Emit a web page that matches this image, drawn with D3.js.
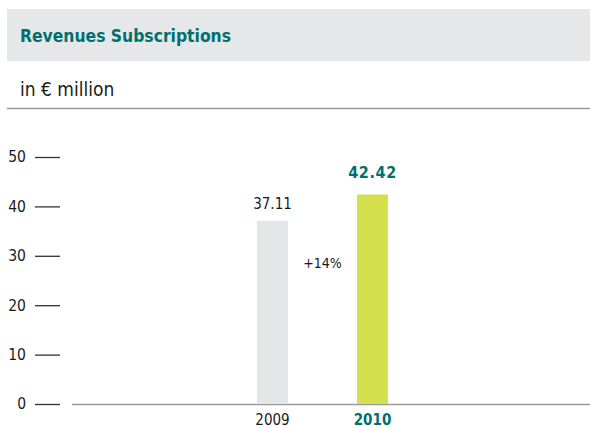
<!DOCTYPE html>
<html>
<head>
<meta charset="utf-8">
<script src="https://cdn.jsdelivr.net/npm/d3@7"></script>
<style>
  html, body { margin: 0; padding: 0; background: #fff; }
  svg { display: block; font-family: "DejaVu Sans Condensed", "Liberation Sans Narrow", sans-serif; }
</style>
</head>
<body>
<svg id="chart" width="590" height="428"></svg>
<script>
const years = ["2009", "2010"];
const revenues = [37.11, 42.42];
const growthLabel = "+14%";
const yTicks = [0, 10, 20, 30, 40, 50];
const barColors = ["#e5e6e8", "#d5e04e"];
const labelColors = ["#1a1a1a", "#00706f"];

const svg = d3.select("#chart");
const teal = "#00706f";

// Header band
svg.append("rect").attr("x", 7).attr("y", 9).attr("width", 583).attr("height", 52).attr("fill", "#e6e7e8");
svg.append("text").attr("x", 20).attr("y", 42)
  .attr("fill", teal).attr("font-size", 18).attr("font-weight", "bold")
  .attr("textLength", 211).attr("lengthAdjust", "spacingAndGlyphs")
  .text("Revenues Subscriptions");

// Unit line
svg.append("text").attr("x", 20).attr("y", 96)
  .attr("fill", "#1a1a1a").attr("font-size", 19)
  .text("in € million");
svg.append("line").attr("x1", 7).attr("x2", 590).attr("y1", 108.5).attr("y2", 108.5)
  .attr("stroke", "#9a9a9a").attr("stroke-width", 1.5);

// Scales
const y = d3.scaleLinear().domain([0, 50]).range([404, 157]);
const x = d3.scalePoint().domain(years).range([272.5, 372.5]);
const barW = 31;

// Y axis: ticks as short dashes, labels on the left
const yAxis = d3.axisLeft(y).tickValues(yTicks).tickSize(25).tickPadding(9).tickFormat(d3.format("d"));
const gy = svg.append("g").attr("transform", "translate(60,0)").call(yAxis);
gy.select(".domain").remove();
gy.selectAll(".tick line").attr("stroke", "#333").attr("stroke-width", 1.3);
gy.selectAll(".tick text").attr("fill", "#1a1a1a").attr("font-size", 15.5).attr("font-family", "DejaVu Sans Condensed, sans-serif");

// Baseline
svg.append("line").attr("x1", 72).attr("x2", 590).attr("y1", y(0) + 0.5).attr("y2", y(0) + 0.5)
  .attr("stroke", "#9a9a9a").attr("stroke-width", 1.3);

// Bars
const data = years.map((yr, i) => ({ yr, v: revenues[i], i }));
svg.append("g").selectAll("rect").data(data).join("rect")
  .attr("x", d => x(d.yr) - barW / 2)
  .attr("width", barW)
  .attr("y", d => y(d.v))
  .attr("height", d => y(0) - y(d.v))
  .attr("fill", d => barColors[d.i]);

// Value labels (the latest year is emphasised)
svg.append("g").selectAll("text").data(data).join("text")
  .attr("x", d => x(d.yr))
  .attr("y", d => y(d.v) - (d.i === 1 ? 16 : 12))
  .attr("text-anchor", "middle")
  .attr("font-size", d => d.i === 1 ? 16 : 15)
  .attr("font-weight", d => d.i === 1 ? "bold" : "normal")
  .attr("letter-spacing", d => d.i === 1 ? 0.6 : 0)
  .attr("fill", d => labelColors[d.i])
  .text(d => d.v.toFixed(2));

// Category labels
svg.append("g").selectAll("text").data(data).join("text")
  .attr("x", d => x(d.yr))
  .attr("y", 425)
  .attr("text-anchor", "middle")
  .attr("font-size", 15)
  .attr("font-weight", d => d.i === 1 ? "bold" : "normal")
  .attr("fill", d => labelColors[d.i])
  .text(d => d.yr);

// Growth label between the bars
svg.append("text")
  .attr("x", (x(years[0]) + x(years[1])) / 2)
  .attr("y", 268)
  .attr("text-anchor", "middle")
  .attr("font-size", 14)
  .attr("fill", "#1a1a1a")
  .text(growthLabel);
</script>
</body>
</html>
